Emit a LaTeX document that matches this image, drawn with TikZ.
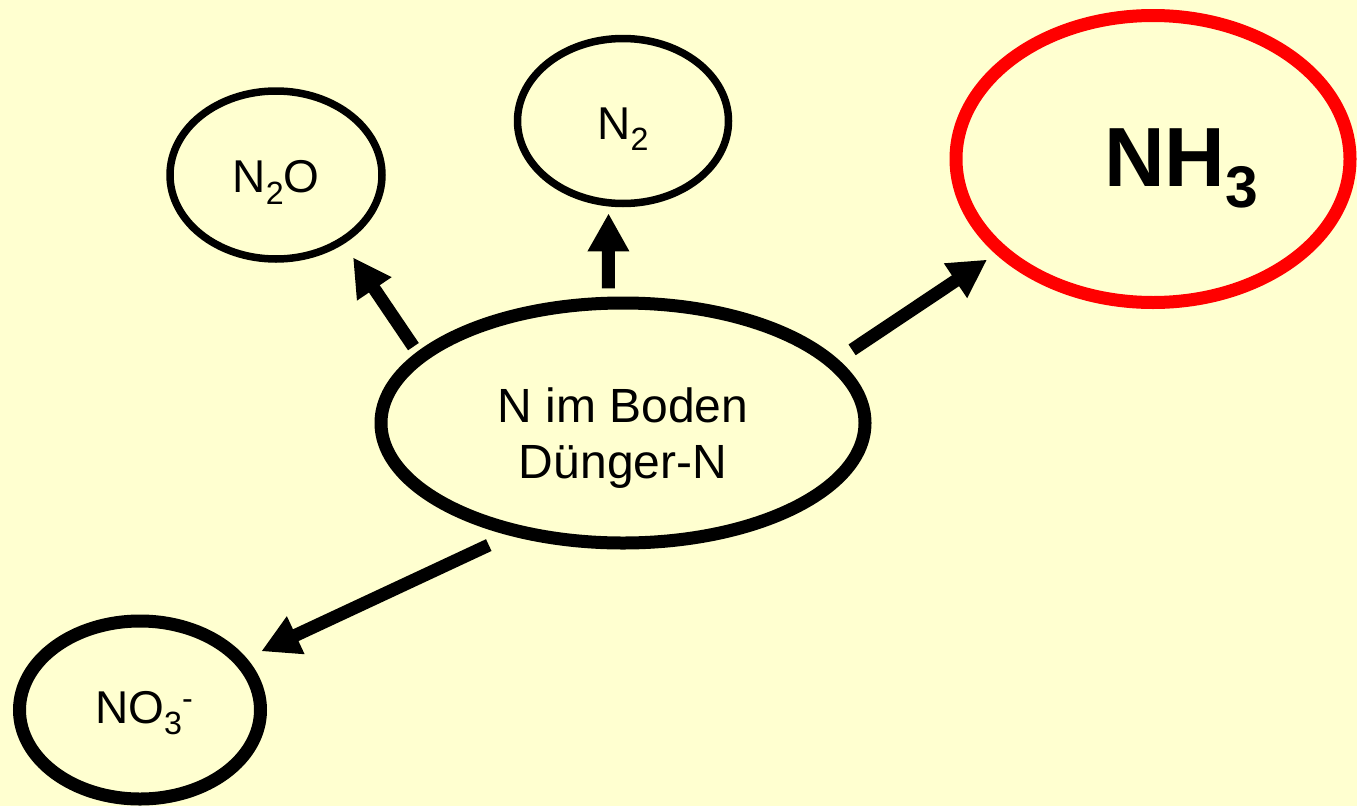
\documentclass[tikz,border=0pt]{standalone}
\usepackage{fontspec}
\setmainfont{Liberation Sans}
\usetikzlibrary{arrows.meta,shapes.geometric}
\definecolor{hellgelb}{RGB}{255,255,208}
\newcommand{\tief}[1]{\raisebox{-0.25em}{\scalebox{0.7}{#1}}}
\newcommand{\hoch}[1]{\raisebox{0.3em}{\scalebox{0.7}{#1}}}
\begin{document}
\begin{tikzpicture}[x=1pt, y=-1pt,
  ring/.style={ellipse, draw, line width=7.5pt, inner sep=0pt, outer sep=0pt,
    font=\fontsize{46}{54}\selectfont, text depth=0pt},
  dickring/.style={ring, line width=13pt},
  pfeil/.style={-{Triangle[length=38pt,width=39pt]}, line width=13pt}]
\useasboundingbox (0,0) rectangle (1357,806);
\fill[hellgelb] (0,0) rectangle (1357,806);
\node[dickring, minimum width=484pt, minimum height=240pt, align=center,
  font=\fontsize{48}{56}\selectfont, text height=110pt, text depth=0pt] (boden) at (623,423) {N im Boden\\Dünger-N};
\node[ring, minimum width=212pt, minimum height=168pt, text height=35.4pt] (n2o) at (276,175) {N\tief{2}O};
\node[ring, minimum width=211pt, minimum height=165pt, text height=36.6pt] (n2) at (623,121) {N\tief{2}};
\node[dickring, draw=red, minimum width=394pt, minimum height=287pt,
  font=\bfseries\fontsize{84}{96}\selectfont, text height=55.4pt] (nh3) at (1153,159) {\hspace*{56pt}NH\tief{3}};
\node[dickring, minimum width=241pt, minimum height=178pt, text height=26.6pt] (no3) at (140,710) {\hspace*{8pt}NO\tief{3}\hoch{-}};
\draw[pfeil, shorten <=12.8pt, shorten >=20pt] (boden.162.5) -- (n2o.-45.9);
\draw[pfeil, shorten <=14.9pt, shorten >=10.6pt] (boden.97) -- (n2.-100.2);
\draw[pfeil, shorten <=23.6pt, shorten >=16.8pt] (boden.16.5) -- (nh3.-149.6);
\draw[pfeil, shorten <=32.8pt, shorten >=22.9pt] (boden.-134.2) -- (no3.26.2);
\end{tikzpicture}
\end{document}
